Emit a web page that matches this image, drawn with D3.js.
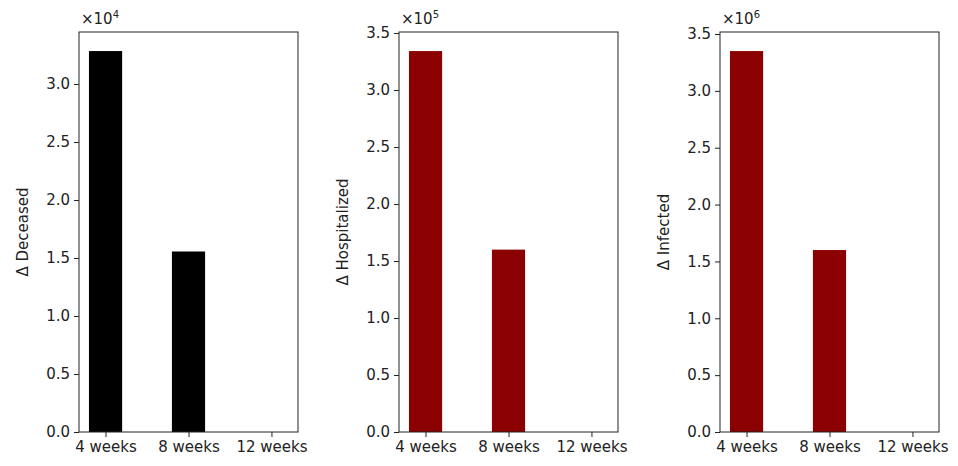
<!DOCTYPE html>
<html lang="en">
  <head>
    <meta charset="utf-8">
    <style>
      body { margin: 0; background: #fff; }
      text { font-family: "DejaVu Sans", sans-serif; fill: #222; }
      .axis text { font-size: 15px; }
      .axis path, .axis line { stroke: #222; }
    </style>
  </head>
  <body>
    <svg width="958" height="466"></svg>

    <script src="https://cdn.jsdelivr.net/npm/d3@7/dist/d3.min.js"></script>
    <script>
      var categories = ["4 weeks", "8 weeks", "12 weeks"];
      var deceased = [32840, 15560, 0];
      var hospitalized = [334200, 160000, 0];
      var infected = [3350000, 1600000, 0];

      var panels = [
        { label: "Δ Deceased", values: deceased, exp: 4, color: "#000000", left: 79 },
        { label: "Δ Hospitalized", values: hospitalized, exp: 5, color: "#8b0000", left: 399 },
        { label: "Δ Infected", values: infected, exp: 6, color: "#8b0000", left: 720 }
      ];

      var plotTop = 32, plotBottom = 432, plotWidth = 219, barWidth = 0.4;
      var plotHeight = plotBottom - plotTop;
      var svg = d3.select("svg");

      var x = d3.scaleLinear().domain([-0.32, 2.32]).range([0, plotWidth]);

      panels.forEach(function(p) {
        var scale = Math.pow(10, p.exp);
        var y = d3.scaleLinear()
          .domain([0, d3.max(p.values) * 1.05])
          .range([plotHeight, 0]);

        var g = svg.append("g")
          .attr("transform", "translate(" + p.left + "," + plotTop + ")");

        g.selectAll("rect.bar")
          .data(p.values)
          .enter()
          .append("rect")
          .attr("class", "bar")
          .attr("x", function(d, i) { return x(i - barWidth / 2); })
          .attr("width", function(d, i) { return x(i + barWidth / 2) - x(i - barWidth / 2); })
          .attr("y", function(d) { return y(d); })
          .attr("height", function(d) { return plotHeight - y(d); })
          .style("fill", p.color);

        var yTicks = d3.range(0, y.domain()[1] / scale + 1e-9, 0.5).map(function(t) { return t * scale; });

        g.append("g")
          .attr("class", "axis")
          .call(d3.axisLeft(y)
            .tickValues(yTicks)
            .tickSize(5)
            .tickPadding(4)
            .tickFormat(function(d) { return (d / scale).toFixed(1); }))
          .select(".domain").remove();

        g.append("g")
          .attr("class", "axis")
          .attr("transform", "translate(0," + plotHeight + ")")
          .call(d3.axisBottom(x)
            .tickValues([0, 1, 2])
            .tickSize(5)
            .tickPadding(4)
            .tickFormat(function(d) { return categories[d]; }))
          .select(".domain").remove();

        // frame
        g.append("rect")
          .attr("width", plotWidth)
          .attr("height", plotHeight)
          .style("fill", "none")
          .style("stroke", "#222")
          .style("stroke-width", 1);

        var off = g.append("text")
          .attr("x", 2)
          .attr("y", -8)
          .style("font-size", "15px");
        off.append("tspan").text("×10");
        off.append("tspan")
          .attr("dy", -6)
          .style("font-size", "10px")
          .text(p.exp);

        g.append("text")
          .attr("transform", "translate(" + (-51) + "," + (plotHeight / 2) + ") rotate(-90)")
          .attr("text-anchor", "middle")
          .style("font-size", "15px")
          .text(p.label);
      });
    </script>
  </body>
</html>
